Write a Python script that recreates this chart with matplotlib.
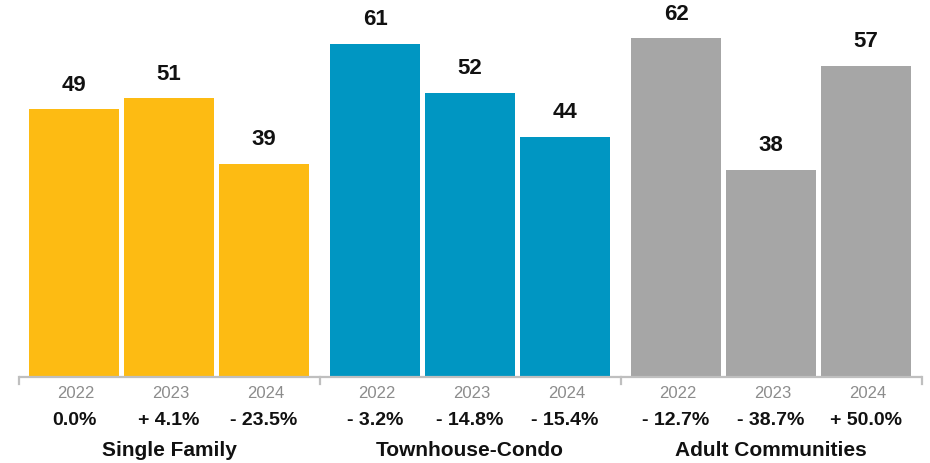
"""
Days on market by property type, 2022-2024
Three groups of bars with year and change labels under the axis.
"""

# load libraries
import matplotlib.pyplot as plt

# chart data
groups = ["Single Family", "Townhouse-Condo", "Adult Communities"]
years = ["2022", "2023", "2024"]
values = [[49, 51, 39],
          [61, 52, 44],
          [62, 38, 57]]
changes = [["0.0%", "+ 4.1%", "- 23.5%"],
           ["- 3.2%", "- 14.8%", "- 15.4%"],
           ["- 12.7%", "- 38.7%", "+ 50.0%"]]
colors = ["#FDBB13", "#0096C2", "#A6A6A6"]

# layout (x in pixel-like units, one bar step = 95)
bar_step = 95
group_step = 301
first_center = 74
bar_width = 90
font = "Liberation Sans"

fig = plt.figure(figsize=(9.3, 4.64), dpi=100)
ax = fig.add_axes([0, 0, 1, 1])
ax.set_xlim(0, 930)
ax.set_ylim(-15.7, 69.2)
ax.axis("off")

for g, group in enumerate(groups):
  centers = [first_center + group_step * g + bar_step * i for i in range(len(years))]
  ax.bar(centers, values[g], width=bar_width, color=colors[g], zorder=2)
  for x, v, yr, ch in zip(centers, values[g], years, changes[g]):
    # value on top of the bar
    ax.text(x, v + 4.6, str(v), ha="center", va="center", fontsize=16,
            fontweight="bold", family=font, color="#111111")
    # year and change under the axis
    ax.text(x + 2, -2.8, yr, ha="center", va="center", fontsize=12,
            family=font, color="#8C8C8C")
    ax.text(x, -7.7, ch, ha="center", va="center", fontsize=14,
            fontweight="bold", family=font, color="#111111")
  # group name
  ax.text(centers[1], -13.2, group, ha="center", va="center", fontsize=15,
          fontweight="bold", family=font, color="#111111")

# category axis line with tick marks between groups
left = first_center - bar_width / 2 - 10
right = left + group_step * len(groups)
ax.plot([left, right], [0, 0], color="#BFBFBF", lw=1.6, zorder=3, solid_capstyle="butt")
for g in range(len(groups) + 1):
  tx = left + group_step * g
  ax.plot([tx, tx], [0, -1.3], color="#BFBFBF", lw=1.6, zorder=3)

fig.savefig("out.png", dpi=100)
#plt.show()
